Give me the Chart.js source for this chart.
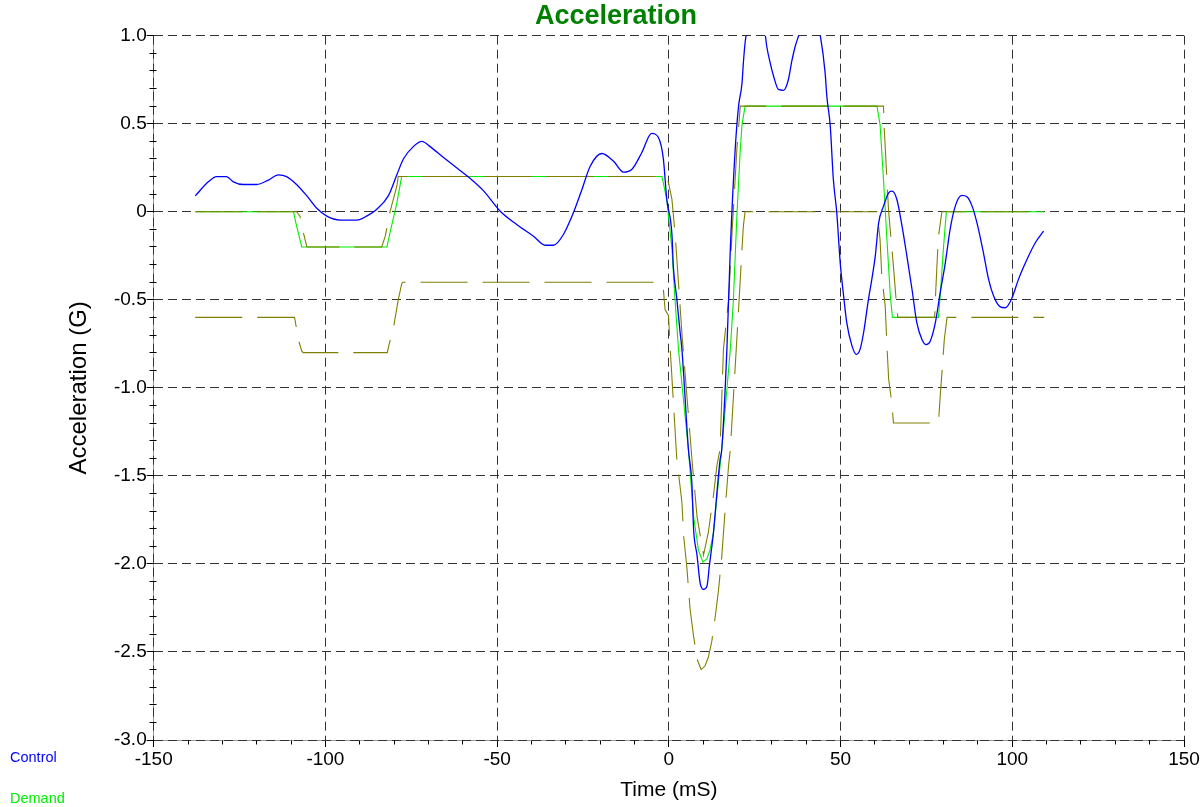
<!DOCTYPE html>
<html>
<head>
<meta charset="utf-8">
<script src="https://cdn.jsdelivr.net/npm/chart.js@4.4.1/dist/chart.umd.min.js"></script>
<style>
html,body{margin:0;padding:0;background:#fff;}
canvas{display:block;}
</style>
</head>
<body>
<canvas id="c" width="1203" height="807"></canvas>
<script>
// ---------- data ----------
const controlTime = [-137.9,-134.1,-131.7,-128.8,-126.8,-123.9,-120.0,-116.6,-113.7,-111.3,-108.4,-105.4,-102.5,-99.6,-95.7,-90.9,-88.0,-85.1,-81.7,-79.2,-77.3,-74.4,-71.9,-69.5,-65.7,-61.8,-57.9,-54.0,-49.1,-44.3,-39.4,-36.0,-33.6,-30.7,-27.8,-25.3,-22.9,-19.5,-16.1,-13.2,-10.8,-7.9,-5.0,-3.0,-1.6,-0.6,0.9,1.3,2.3,3.3,3.8,5.7,6.7,7.2,8.2,9.1,10.1,11.1,11.8,13.0,14.0,14.9,15.4,16.9,17.9,19.3,20.3,21.3,21.7,22.2,22.7,24.0,25.5,27.0,28.1,28.5,29.5,30.5,31.9,33.4,34.8,35.8,36.8,37.8,39.5,41.0,42.8,44.1,45.5,46.0,47.0,47.9,48.9,49.9,50.9,51.8,53.3,54.6,55.7,56.7,58.1,59.1,60.1,61.1,62.5,64.0,65.0,66.4,67.9,69.3,70.8,72.2,73.7,74.9,76.1,77.6,79.0,80.5,81.9,83.4,85.3,86.8,88.3,89.7,91.6,93.1,94.6,96.5,98.0,99.9,101.8,104.3,106.7,109.1];
const controlValues = [0.09,0.17,0.20,0.20,0.17,0.155,0.155,0.18,0.21,0.20,0.155,0.09,0.02,-0.025,-0.047,-0.047,-0.025,0.013,0.09,0.21,0.30,0.37,0.40,0.37,0.31,0.25,0.19,0.12,0.003,-0.072,-0.139,-0.19,-0.19,-0.129,-0.006,0.127,0.259,0.331,0.287,0.225,0.24,0.335,0.445,0.42,0.30,0.07,-0.13,-0.31,-0.49,-0.69,-0.78,-1.35,-1.54,-1.80,-1.95,-2.107,-2.145,-2.126,-2.01,-1.82,-1.596,-1.41,-1.35,-0.78,-0.21,0.35,0.60,0.73,0.846,0.96,1.02,1.10,1.12,1.08,1.0,0.94,0.846,0.77,0.695,0.69,0.75,0.855,0.94,1.0,1.10,1.15,1.10,1.0,0.79,0.656,0.486,0.183,-0.006,-0.29,-0.48,-0.63,-0.76,-0.81,-0.78,-0.687,-0.50,-0.384,-0.252,-0.062,0.032,0.108,0.117,0.07,-0.082,-0.25,-0.44,-0.63,-0.725,-0.754,-0.735,-0.63,-0.46,-0.29,-0.10,0.032,0.093,0.085,0.032,-0.062,-0.233,-0.384,-0.48,-0.54,-0.545,-0.49,-0.384,-0.27,-0.176,-0.11];

const demandTime = [-137.9,-109.3,-108.4,-106.9,-82.1,-81.2,-79.2,-77.8,-2.0,-0.6,0.9,1.8,2.8,5.7,7.2,8.6,9.9,11.1,12.0,13.0,14.4,15.4,17.9,18.8,19.8,20.8,21.3,22.2,60.6,61.5,62.5,63.5,64.5,65.1,78.5,79.0,80.0,80.8,109.3];
const demandValues = [0,0,-0.08,-0.2,-0.2,-0.12,0.05,0.2,0.2,0.07,-0.21,-0.50,-0.78,-1.35,-1.73,-1.92,-1.99,-1.97,-1.92,-1.82,-1.54,-1.35,-0.78,-0.50,-0.025,0.354,0.495,0.6,0.6,0.496,0.183,-0.157,-0.48,-0.6,-0.6,-0.48,-0.195,0,0];

const upperTime = [-137.9,-108.4,-107.4,-106.4,-105.4,-83.6,-82.6,-81.2,-79.2,-78.8,-1.1,-0.1,0.9,1.8,2.8,3.8,6.7,8.2,10.1,11.5,13.0,14.0,14.9,15.9,17.4,18.4,19.8,20.8,62.5,62.7,63.5,64.0,65.4,66.4,66.7,77.4,77.6,78.1,78.5,79.5,109.3];
const upperValues = [0,0,-0.025,-0.12,-0.2,-0.2,-0.14,0,0.145,0.2,0.2,0.165,0.07,-0.12,-0.40,-0.69,-1.40,-1.73,-1.95,-1.82,-1.61,-1.44,-1.35,-0.78,-0.50,-0.12,0.354,0.6,0.6,0.48,0.18,0,-0.31,-0.555,-0.6,-0.6,-0.50,-0.29,-0.14,0,0];

const lowerTime = [-137.9,-109.0,-108.8,-107.9,-106.9,-106.5,-82.0,-81.4,-80.2,-78.8,-77.8,-77.5,-2.5,-1.6,-1.1,-0.1,0.4,2.3,3.8,4.3,5.2,6.2,7.2,8.2,9.4,10.5,11.5,12.5,13.5,14.4,15.4,16.4,17.4,17.9,20.3,21.3,21.7,22.2,60.6,61.5,62.0,63.0,63.5,64.0,65.0,65.4,78.5,79.0,79.8,80.2,81.0,109.3];
const lowerValues = [-0.6,-0.6,-0.62,-0.725,-0.79,-0.8,-0.8,-0.75,-0.66,-0.50,-0.41,-0.4,-0.4,-0.44,-0.555,-0.59,-0.78,-1.40,-1.65,-1.84,-2.01,-2.26,-2.41,-2.54,-2.60,-2.58,-2.53,-2.44,-2.30,-2.16,-1.96,-1.69,-1.44,-1.35,-0.555,-0.21,-0.08,0,0,-0.157,-0.366,-0.536,-0.76,-0.95,-1.10,-1.2,-1.2,-1.05,-0.84,-0.725,-0.6,-0.6];

const xTickValues = [-150,-100,-50,0,50,100,150];
const yTickValues = [1.0,0.5,0,-0.5,-1.0,-1.5,-2.0,-2.5,-3.0];
// --------------------------------------------------

const FONT = 'Arial, "Liberation Sans", Helvetica, sans-serif';
const pts = (ts, vs) => ts.map((t, i) => ({x: t, y: vs[i]}));
const align = v => Math.round(v - 0.5) + 0.5;

// solid gray axis lines underneath the dashed grid
const axisLines = {
  id: 'axisLines',
  beforeDraw(chart) {
    const {ctx, chartArea: a} = chart;
    ctx.save();
    ctx.strokeStyle = '#999';
    ctx.lineWidth = 1;
    ctx.beginPath();
    ctx.moveTo(align(a.left), a.top);
    ctx.lineTo(align(a.left), align(a.bottom));
    ctx.lineTo(a.right, align(a.bottom));
    ctx.stroke();
    ctx.restore();
  }
};

const minorTicks = {
  id: 'minorTicks',
  afterDraw(chart) {
    const {ctx, chartArea: a, scales: {x, y}} = chart;
    ctx.save();
    ctx.strokeStyle = '#000';
    ctx.lineWidth = 1;
    ctx.beginPath();
    for (let i = 0; i < xTickValues.length - 1; i++) {
      const step = (xTickValues[i + 1] - xTickValues[i]) / 5;
      for (let k = 1; k < 5; k++) {
        const px = align(x.getPixelForValue(xTickValues[i] + k * step));
        ctx.moveTo(px, align(a.bottom));
        ctx.lineTo(px, align(a.bottom) + 4);
      }
    }
    for (let i = 0; i < yTickValues.length - 1; i++) {
      const step = (yTickValues[i + 1] - yTickValues[i]) / 5;
      for (let k = 1; k < 5; k++) {
        const py = align(y.getPixelForValue(yTickValues[i] + k * step));
        ctx.moveTo(align(a.left) - 4, py);
        ctx.lineTo(align(a.left) + 3, py);
      }
    }
    ctx.stroke();
    ctx.restore();
  }
};

const textLegend = {
  id: 'textLegend',
  afterDraw(chart, args, opts) {
    const {ctx} = chart;
    ctx.save();
    ctx.font = opts.size + 'px ' + FONT;
    ctx.textAlign = 'left';
    ctx.textBaseline = 'alphabetic';
    let row = 0;
    chart.data.datasets.forEach(ds => {
      if (!ds.showInLegend) return;
      ctx.fillStyle = ds.borderColor;
      ctx.fillText(ds.label, opts.x, opts.y + row * opts.gap);
      row++;
    });
    ctx.restore();
  }
};

new Chart(document.getElementById('c'), {
  type: 'line',
  data: {
    datasets: [
      {label: 'Control', showInLegend: true, data: pts(controlTime, controlValues),
       borderColor: '#0000ff', borderWidth: 1.3, order: 0, cubicInterpolationMode: 'monotone'},
      {label: 'Upper Abort', data: pts(upperTime, upperValues),
       borderColor: '#808000', borderWidth: 1.1, borderDash: [47, 15], order: 1},
      {label: 'Lower Abort', data: pts(lowerTime, lowerValues),
       borderColor: '#808000', borderWidth: 1.1, borderDash: [47, 15], order: 1},
      {label: 'Demand', showInLegend: true, data: pts(demandTime, demandValues),
       borderColor: '#00ee00', borderWidth: 1.1, order: 3}
    ]
  },
  options: {
    responsive: false,
    animation: false,
    elements: {point: {radius: 0, hoverRadius: 0}, line: {tension: 0, fill: false}},
    layout: {padding: {left: 48, right: 19, top: 0, bottom: 0}},
    events: [],
    plugins: {
      legend: {display: false},
      tooltip: {enabled: false},
      title: {
        display: true, text: 'Acceleration', color: '#008000',
        font: {family: FONT, size: 27, weight: 'bold'},
        padding: {top: 0, bottom: 3.3}
      },
      textLegend: {x: 10, y: 761.5, gap: 41.5, size: 14.5}
    },
    scales: {
      x: {
        type: 'linear', min: -150, max: 150,
        afterBuildTicks: s => { s.ticks = xTickValues.map(v => ({value: v})); },
        afterFit: s => { s.height = 67; },
        ticks: {color: '#000', font: {family: FONT, size: 19}, padding: 1, maxRotation: 0,
                callback: v => String(v)},
        grid: {color: '#333', lineWidth: 1, drawTicks: true, tickLength: 7, tickColor: '#000'},
        border: {display: false, dash: [9, 5]},
        title: {display: true, text: 'Time (mS)', color: '#000', font: {family: FONT, size: 21},
                padding: {top: 0, bottom: 4.4}}
      },
      y: {
        type: 'linear', min: -3, max: 1,
        afterBuildTicks: s => { s.ticks = yTickValues.map(v => ({value: v})); },
        afterFit: s => { s.width = 105.7; },
        ticks: {color: '#000', font: {family: FONT, size: 19}, padding: 0,
                callback: v => Math.abs(v) < 1e-9 ? '0' : Number(v).toFixed(1)},
        grid: {color: '#333', lineWidth: 1, drawTicks: true, tickLength: 7, tickColor: '#000'},
        border: {display: false, dash: [9, 5]},
        title: {display: true, text: 'Acceleration (G)', color: '#000', font: {family: FONT, size: 24},
                padding: {top: 17, bottom: 0}}
      }
    }
  },
  plugins: [axisLines, minorTicks, textLegend]
});
</script>
</body>
</html>
